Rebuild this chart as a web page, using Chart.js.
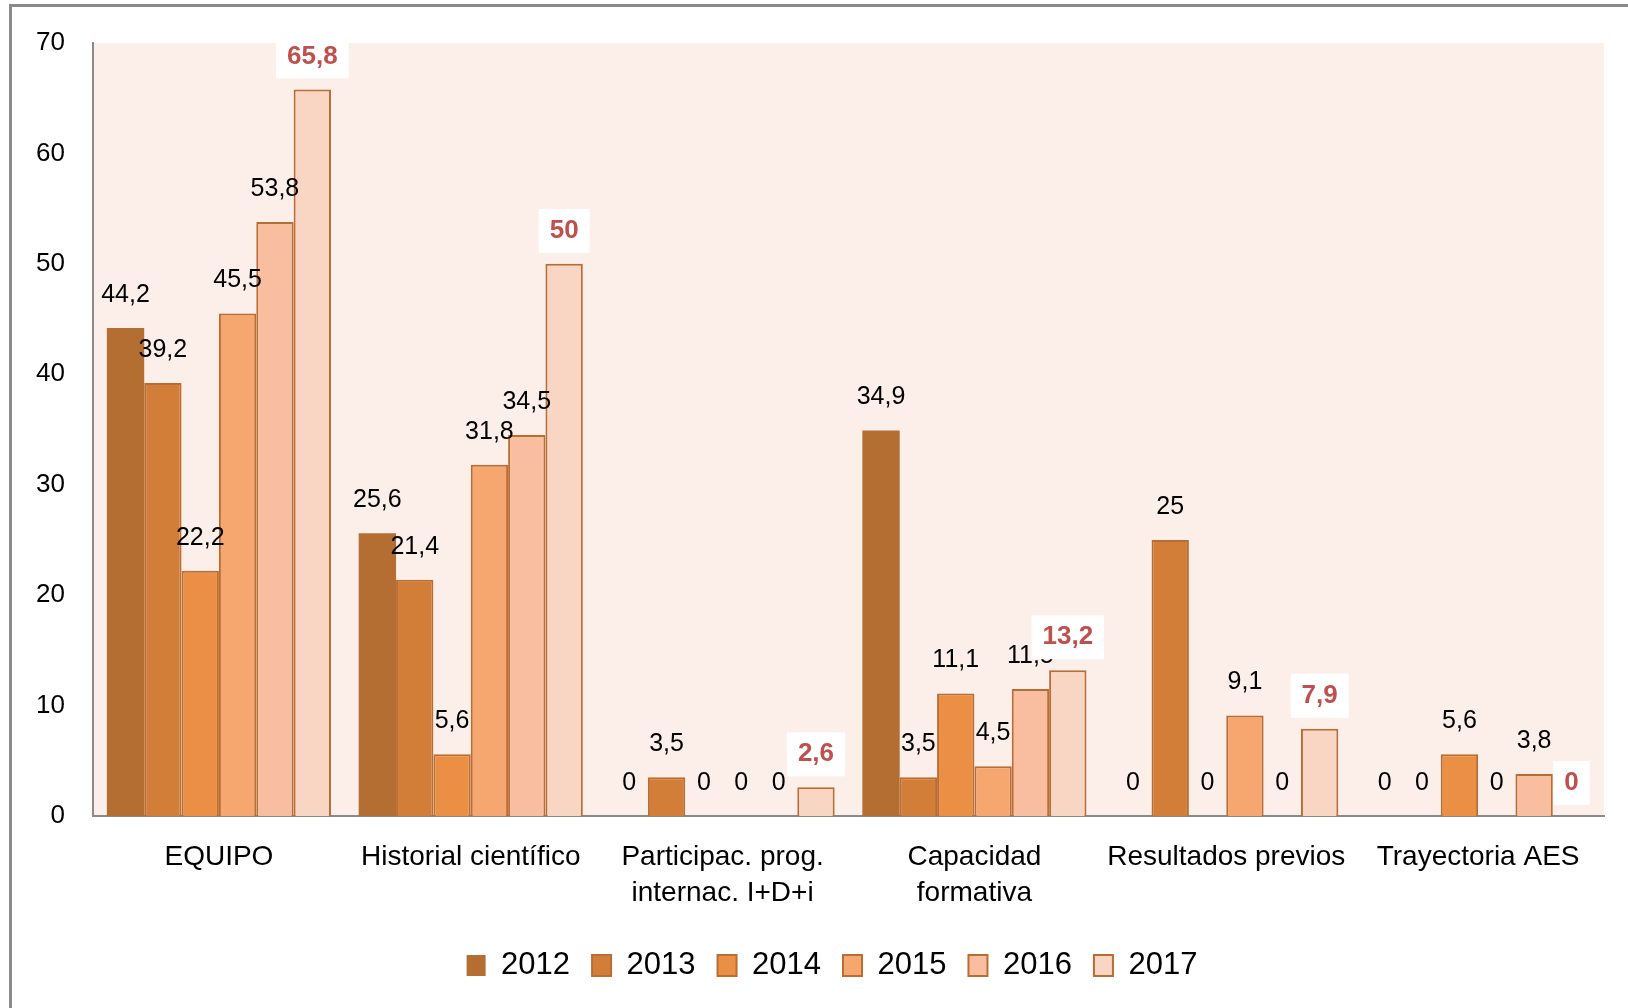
<!DOCTYPE html>
<html>
<head>
<meta charset="utf-8">
<script src="https://cdn.jsdelivr.net/npm/chart.js@4.4.1/dist/chart.umd.min.js"></script>
<style>
  html, body { margin: 0; padding: 0; background: #fff; }
  #wrap { position: relative; width: 1628px; height: 1008px; }
</style>
</head>
<body>
<div id="wrap"><canvas id="c" width="1628" height="1008"></canvas></div>
<script>
const categories = [
  'EQUIPO',
  'Historial científico',
  ['Participac. prog.', 'internac. I+D+i'],
  ['Capacidad', 'formativa'],
  'Resultados previos',
  'Trayectoria AES'
];
const years = ['2012', '2013', '2014', '2015', '2016', '2017'];

const v2012 = [44.2, 25.6, 0, 34.9, 0, 0];
const v2013 = [39.2, 21.4, 3.5, 3.5, 25, 0];
const v2014 = [22.2, 5.6, 0, 11.1, 0, 5.6];
const v2015 = [45.5, 31.8, 0, 4.5, 9.1, 0];
const v2016 = [53.8, 34.5, 0, 11.5, 0, 3.8];
const v2017 = [65.8, 50, 2.6, 13.2, 7.9, 0];

const yTicks = [0, 10, 20, 30, 40, 50, 60, 70];

const fills = ['#B46E32', '#D27E39', '#EB8F44', '#F6A76F', '#F8BE9F', '#F9D5C3'];
const series = [v2012, v2013, v2014, v2015, v2016, v2017];

Chart.defaults.font.family = "'Liberation Sans', Arial, sans-serif";
Chart.defaults.color = '#000';

// background of plot + outer frame lines
const frame = {
  id: 'frame',
  beforeDraw(chart) {
    const { ctx, chartArea: a } = chart;
    ctx.save();
    ctx.fillStyle = '#FCEEE9';
    ctx.fillRect(a.left, a.top, a.right - a.left, a.bottom - a.top);
    ctx.fillStyle = '#8a8a8a';
    ctx.fillRect(9, 4, 1619, 3);
    ctx.fillRect(9, 4, 3, 1004);
    ctx.restore();
  }
};

// the legend sits a bit right of the centre in the original
const legendShift = {
  id: 'legendShift',
  afterLayout(chart) {
    chart.legend.left += 30;
    chart.legend.right += 30;
  }
};

// value labels over the bars, 2017 ones red on white
const valueLabels = {
  id: 'valueLabels',
  afterDatasetsDraw(chart) {
    const { ctx } = chart;
    ctx.save();
    ctx.textAlign = 'center';
    ctx.textBaseline = 'middle';
    chart.data.datasets.forEach((ds, i) => {
      const last = i === chart.data.datasets.length - 1;
      chart.getDatasetMeta(i).data.forEach((bar, j) => {
        const txt = String(ds.data[j]).replace('.', ',');
        const y = bar.y - 33;
        if (last) {
          ctx.font = "bold 26px 'Liberation Sans', Arial, sans-serif";
          const w = ctx.measureText(txt).width + 22;
          ctx.fillStyle = '#fff';
          ctx.fillRect(bar.x - w / 2, y - 22, w, 44);
          ctx.fillStyle = '#C0504D';
        } else {
          ctx.font = "25px 'Liberation Sans', Arial, sans-serif";
          ctx.fillStyle = '#000';
        }
        ctx.fillText(txt, bar.x, y);
      });
    });
    ctx.restore();
  }
};

new Chart(document.getElementById('c'), {
  type: 'bar',
  data: {
    labels: categories,
    datasets: years.map((yr, i) => ({
      label: yr,
      data: series[i],
      backgroundColor: fills[i],
      borderColor: '#BA6D33',
      borderWidth: i === 0 ? 0 : 2,
      categoryPercentage: 0.89,
      barPercentage: 1.0
    }))
  },
  options: {
    responsive: false,
    animation: false,
    layout: { padding: { top: 43, right: 24, left: 0, bottom: 17 } },
    scales: {
      x: {
        grid: { display: false },
        border: { display: true, color: '#8a8a8a', width: 2 },
        ticks: { font: { size: 28, lineHeight: 1.3 }, padding: 15, maxRotation: 0, autoSkip: false },
        afterFit(s) { s.height = 112; }
      },
      y: {
        min: 0,
        max: 70,
        afterBuildTicks(s) { s.ticks = yTicks.map(v => ({ value: v })); },
        grid: { display: false },
        border: { display: true, color: '#8a8a8a', width: 2 },
        ticks: { font: { size: 26 }, padding: 20 },
        afterFit(s) { s.width = 93; }
      }
    },
    plugins: {
      legend: {
        position: 'bottom',
        labels: { boxWidth: 19, boxHeight: 21, font: { size: 31 }, padding: 22, color: '#000' }
      },
      tooltip: { enabled: false }
    }
  },
  plugins: [frame, legendShift, valueLabels]
});
</script>
</body>
</html>
